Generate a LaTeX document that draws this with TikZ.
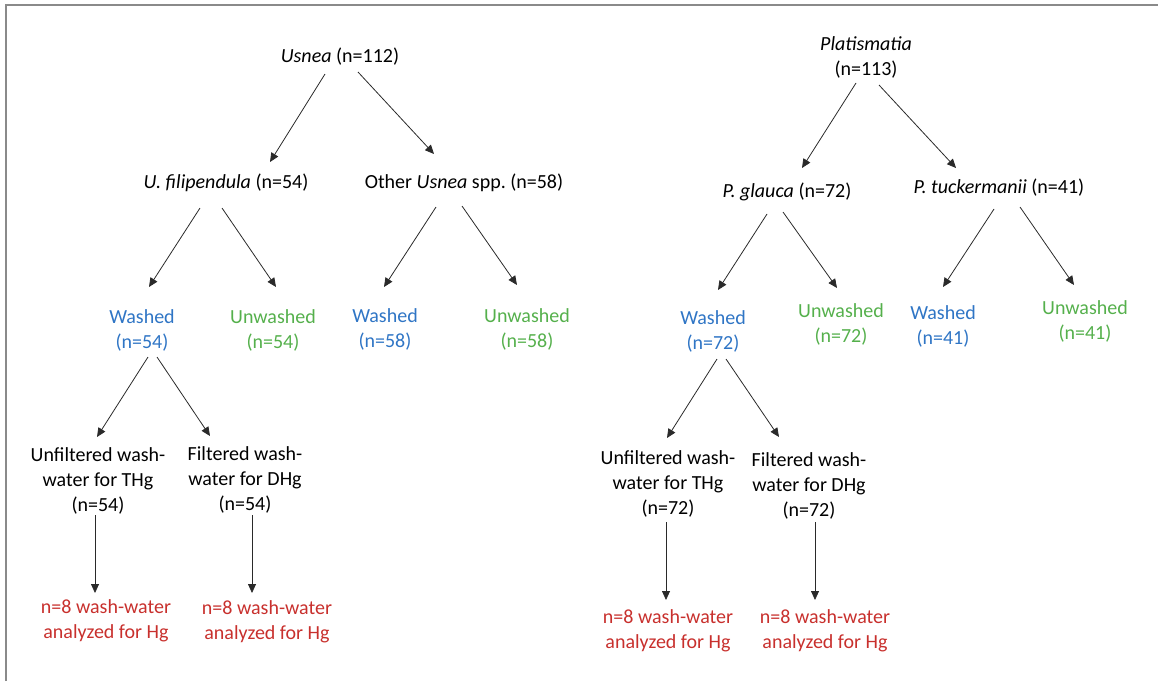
\documentclass[tikz,border=0pt]{standalone}
\usepackage{fontspec}
\setmainfont{Carlito}
\usetikzlibrary{arrows.meta}
\frenchspacing
\definecolor{wblue}{HTML}{2F75C5}
\definecolor{ugreen}{HTML}{55B04C}
\definecolor{hred}{HTML}{C8302D}
\definecolor{framegray}{HTML}{8A8A8A}
\definecolor{linegray}{HTML}{2A2A2A}
\tikzset{
  lbl/.style={font=\fontsize{20}{25}\selectfont, align=center, inner sep=0pt, text=black},
  wash/.style={lbl, text=wblue},
  unwash/.style={lbl, text=ugreen},
  result/.style={lbl, text=hred},
  arr/.style={draw=linegray, line width=0.8pt, -{Triangle[length=9pt,width=8pt]}},
}
\begin{document}
\begin{tikzpicture}[x=1pt,y=-1pt]
\useasboundingbox (0,0) rectangle (1158,681);
\draw[framegray, line width=2pt] (6,681) -- (6,5) -- (1158,5);
% left tree
\node[lbl] (usnea) at (340,57) {\textit{Usnea} (n=112)};
\node[lbl] (ufil) at (226,183) {\textit{U. filipendula} (n=54)};
\node[lbl] (oth) at (464,183) {Other \textit{Usnea} spp. (n=58)};
\node[wash] (w54) at (142,330) {Washed\\(n=54)};
\node[unwash] (u54) at (273,330) {Unwashed\\(n=54)};
\node[wash] (w58) at (385,329) {Washed\\(n=58)};
\node[unwash] (u58) at (527,329) {Unwashed\\(n=58)};
\node[lbl] (unf54) at (98,481) {Unfiltered wash-\\water for THg\\(n=54)};
\node[lbl] (fil54) at (245,480) {Filtered wash-\\water for DHg\\(n=54)};
\node[result] (r54a) at (106,621) {n=8 wash-water\\analyzed for Hg};
\node[result] (r54b) at (267,622) {n=8 wash-water\\analyzed for Hg};
% right tree
\node[lbl] (plat) at (866,57) {\textit{Platismatia}\\(n=113)};
\node[lbl] (pgl) at (787,192) {\textit{P. glauca} (n=72)};
\node[lbl] (ptu) at (999,188) {\textit{P. tuckermanii} (n=41)};
\node[wash] (w72) at (713,331) {Washed\\(n=72)};
\node[unwash] (u72) at (841,324) {Unwashed\\(n=72)};
\node[wash] (w41) at (943,326) {Washed\\(n=41)};
\node[unwash] (u41) at (1085,321) {Unwashed\\(n=41)};
\node[lbl] (unf72) at (668,484) {Unfiltered wash-\\water for THg\\(n=72)};
\node[lbl] (fil72) at (809,486) {Filtered wash-\\water for DHg\\(n=72)};
\node[result] (r72a) at (668,631) {n=8 wash-water\\analyzed for Hg};
\node[result] (r72b) at (825,631) {n=8 wash-water\\analyzed for Hg};
% connectors
\draw[arr] ([shift={(-15,17)}]usnea.center) -- ([shift={(44,-21)}]ufil.center);
\draw[arr] ([shift={(18,15)}]usnea.center) -- ([shift={(-30,-29)}]oth.center);
\draw[arr] ([shift={(-26,25)}]ufil.center) -- ([shift={(7,-43)}]w54.center);
\draw[arr] ([shift={(-4,25)}]ufil.center) -- ([shift={(3,-43)}]u54.center);
\draw[arr] ([shift={(-28,24)}]oth.center) -- ([shift={(-1,-42)}]w58.center);
\draw[arr] ([shift={(-2,23)}]oth.center) -- ([shift={(-10,-44)}]u58.center);
\draw[arr] ([shift={(6,27)}]w54.center) -- ([shift={(-1,-44)}]unf54.center);
\draw[arr] ([shift={(15,27)}]w54.center) -- ([shift={(-35,-44)}]fil54.center);
\draw[arr] ([shift={(-3,34)}]unf54.center) -- ([shift={(-11,-28)}]r54a.center);
\draw[arr] ([shift={(7,35)}]fil54.center) -- ([shift={(-15,-29)}]r54b.center);
\draw[arr] ([shift={(-10,26)}]plat.center) -- ([shift={(15,-24)}]pgl.center);
\draw[arr] ([shift={(13,28)}]plat.center) -- ([shift={(-43,-20)}]ptu.center);
\draw[arr] ([shift={(-20,22)}]pgl.center) -- ([shift={(5,-41)}]w72.center);
\draw[arr] ([shift={(-4,20)}]pgl.center) -- ([shift={(-4,-36)}]u72.center);
\draw[arr] ([shift={(-5,21)}]ptu.center) -- ([shift={(0,-39)}]w41.center);
\draw[arr] ([shift={(21,19)}]ptu.center) -- ([shift={(-11,-36)}]u41.center);
\draw[arr] ([shift={(4,28)}]w72.center) -- ([shift={(-1,-46)}]unf72.center);
\draw[arr] ([shift={(13,28)}]w72.center) -- ([shift={(-30,-49)}]fil72.center);
\draw[arr] ([shift={(-2,38)}]unf72.center) -- ([shift={(-2,-31)}]r72a.center);
\draw[arr] ([shift={(6,36)}]fil72.center) -- ([shift={(-10,-31)}]r72b.center);
\end{tikzpicture}
\end{document}
